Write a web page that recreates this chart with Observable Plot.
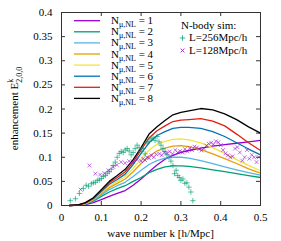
<!DOCTYPE html>
<html><head><meta charset="utf-8">
<script src="https://cdn.jsdelivr.net/npm/d3@7"></script>
<script src="https://cdn.jsdelivr.net/npm/@observablehq/plot@0.6"></script>
<style>body{margin:0;background:#fff}</style>
</head><body><div id="chart"></div>
<script>
const kGrid = [0.02,0.04,0.06,0.08,0.10,0.12,0.14,0.16,0.18,0.20,0.22,0.24,0.26,0.28,0.30,0.32,0.35,0.38,0.41,0.44,0.47,0.50];
const N1 = [0,0.0005,0.002,0.006,0.012,0.019,0.025,0.031,0.042,0.055,0.070,0.084,0.096,0.104,0.110,0.114,0.119,0.123,0.126,0.129,0.132,0.135];
const N2 = [0,0.0008,0.003,0.009,0.019,0.028,0.035,0.041,0.050,0.058,0.068,0.075,0.080,0.082,0.082,0.081,0.078,0.074,0.070,0.066,0.062,0.058];
const N3 = [0,0.0008,0.003,0.011,0.022,0.033,0.041,0.048,0.060,0.073,0.085,0.093,0.098,0.100,0.100,0.098,0.093,0.087,0.080,0.074,0.068,0.063];
const N4 = [0,0.001,0.004,0.012,0.025,0.037,0.046,0.055,0.070,0.087,0.102,0.113,0.119,0.123,0.124,0.122,0.116,0.107,0.097,0.087,0.076,0.067];
const N5 = [0,0.001,0.004,0.013,0.027,0.040,0.050,0.060,0.077,0.097,0.115,0.127,0.133,0.137,0.138,0.136,0.130,0.120,0.108,0.095,0.083,0.072];
const N6 = [0,0.001,0.005,0.014,0.029,0.044,0.054,0.065,0.085,0.108,0.130,0.145,0.153,0.160,0.162,0.162,0.160,0.153,0.143,0.130,0.117,0.105];
const N7 = [0,0.001,0.005,0.015,0.031,0.047,0.058,0.070,0.090,0.115,0.140,0.155,0.165,0.174,0.177,0.178,0.180,0.175,0.165,0.148,0.130,0.114];
const N8 = [0,0.001,0.006,0.016,0.033,0.050,0.062,0.075,0.095,0.120,0.148,0.163,0.176,0.188,0.193,0.196,0.201,0.198,0.190,0.178,0.163,0.150];
const seriesNames = ["1","2","3","4","5","6","7","8"];
const seriesColors = ["#9400d3","#009e73","#56b4e9","#e69f00","#f0e442","#0072b2","#e51e10","#000000"];

const sim256k = [0.022,0.035,0.045,0.055,0.062,0.068,0.075,0.080,0.085,0.090,0.095,0.100,0.105,0.110,0.115,0.120,0.125,0.130,0.135,0.140,0.145,0.150,0.155,0.160,0.165,0.170,0.175,0.180,0.185,0.190,0.195,0.200,0.205,0.210,0.215,0.220,0.225,0.230,0.235,0.240,0.245,0.250,0.255,0.260,0.265,0.270,0.275,0.280,0.284,0.288,0.292,0.296,0.300,0.305,0.310,0.315,0.320,0.325,0.330];
const sim256v = [0.010,0.014,0.025,0.035,0.042,0.040,0.045,0.047,0.048,0.052,0.053,0.056,0.060,0.062,0.067,0.070,0.075,0.083,0.090,0.100,0.108,0.112,0.110,0.115,0.118,0.113,0.105,0.110,0.118,0.125,0.120,0.112,0.118,0.107,0.130,0.133,0.138,0.140,0.135,0.143,0.132,0.125,0.118,0.112,0.105,0.100,0.092,0.083,0.066,0.073,0.062,0.058,0.052,0.055,0.046,0.047,0.038,0.028,0.010];
const sim128k = [0.048,0.070,0.085,0.097,0.108,0.118,0.130,0.139,0.150,0.160,0.170,0.180,0.190,0.200,0.205,0.210,0.215,0.220,0.226,0.232,0.238,0.246,0.252,0.258,0.265,0.272,0.279,0.286,0.292,0.298,0.304,0.310,0.316,0.322,0.328,0.334,0.340,0.346,0.352,0.358,0.364,0.370,0.376,0.382,0.388,0.394,0.400,0.406,0.412,0.418,0.424,0.430,0.436,0.442,0.448,0.454,0.460,0.466,0.472,0.478,0.484,0.490,0.496];
const sim128v = [0.033,0.083,0.066,0.064,0.067,0.073,0.080,0.084,0.090,0.088,0.092,0.090,0.095,0.092,0.097,0.094,0.100,0.098,0.104,0.100,0.106,0.107,0.104,0.110,0.108,0.112,0.107,0.115,0.110,0.113,0.110,0.117,0.112,0.119,0.115,0.122,0.120,0.117,0.114,0.118,0.124,0.128,0.130,0.127,0.133,0.131,0.125,0.115,0.108,0.104,0.100,0.102,0.118,0.121,0.110,0.093,0.100,0.115,0.097,0.105,0.100,0.090,0.100];

const xTicks = [0,0.1,0.2,0.3,0.4,0.5];
const xTickLabels = ["0","0.1","0.2","0.3","0.4","0.5"];
const yTicks = [0,0.05,0.1,0.15,0.2,0.25,0.3,0.35,0.4];
const yTickLabels = ["0","0.05","0.1","0.15","0.2","0.25","0.3","0.35","0.4"];
const xLabel = "wave number k [h/Mpc]";
const simTitle = "N-body sim:";
const simNames = ["L=256Mpc/h","L=128Mpc/h"];

const allSeries = [N1,N2,N3,N4,N5,N6,N7,N8];
const lineData = [];
allSeries.forEach((arr,si)=>arr.forEach((v,i)=>lineData.push({k:kGrid[i], v, s:seriesNames[si]})));
const pts256 = sim256k.map((k,i)=>({k, v:sim256v[i]}));
const pts128 = sim128k.map((k,i)=>({k, v:sim128v[i]}));

const W=281,H=241,mL=61,mR=21,mT=12,mB=36;
const iw=W-mL-mR, ih=H-mT-mB, tl=4;
const legX = 182, legY0 = 37.5, legDy = 12.5;

const plot = Plot.plot({
  width:W, height:H, marginLeft:mL, marginRight:mR, marginTop:mT, marginBottom:mB,
  style:{fontFamily:"Liberation Serif", fontSize:"11px", background:"#fff", color:"#000"},
  x:{domain:[0,0.5]},
  y:{domain:[0,0.4]},
  color:{domain:seriesNames, range:seriesColors},
  marks:[
    Plot.axisX({ticks:xTicks, tickSize:0, tickPadding:8, label:null, tickFormat:(d,i)=>xTickLabels[i], fontSize:11}),
    Plot.axisY({ticks:yTicks, tickSize:0, tickPadding:9, label:null, tickFormat:(d,i)=>yTickLabels[i], fontSize:11}),
    Plot.tickY(yTicks, {y:d=>d, insetRight:iw-tl, stroke:"#333"}),
    Plot.tickY(yTicks, {y:d=>d, insetLeft:iw-tl, stroke:"#333"}),
    Plot.tickX(xTicks, {x:d=>d, insetTop:ih-tl, stroke:"#333"}),
    Plot.tickX(xTicks, {x:d=>d, insetBottom:ih-tl, stroke:"#333"}),
    Plot.line(lineData, {x:"k", y:"v", z:"s", stroke:"s", strokeWidth:1.3}),
    Plot.dot(pts256, {x:"k", y:"v", symbol:"plus", r:1.9, stroke:"#009e73", strokeWidth:1, strokeOpacity:0.65}),
    Plot.dot(pts128, {x:"k", y:"v", symbol:"times", r:1.9, stroke:"#9400d3", strokeWidth:1, strokeOpacity:0.55}),
    Plot.dot([simNames[0]], {frameAnchor:"top-left", dx:legX-mL, dy:legY0-mT, symbol:"plus", r:1.9, stroke:"#009e73", strokeWidth:1, strokeOpacity:0.75}),
    Plot.dot([simNames[1]], {frameAnchor:"top-left", dx:legX-mL, dy:legY0+legDy-mT, symbol:"times", r:1.9, stroke:"#9400d3", strokeWidth:1, strokeOpacity:0.75}),
    Plot.frame({stroke:"#333", strokeWidth:1})
  ]
});
document.getElementById("chart").appendChild(plot);

const svg = d3.select(plot);
const font = "Liberation Serif";
svg.append("text").attr("x", mL+iw/2).attr("y", 237).attr("text-anchor","middle")
  .attr("font-family",font).attr("font-size",11).attr("fill","#000").text(xLabel);
const yl = svg.append("text").attr("transform",`translate(18,${mT+ih/2}) rotate(-90)`)
  .attr("text-anchor","middle").attr("font-family",font).attr("font-size",11).attr("fill","#000");
yl.append("tspan").text("enhancement E");
yl.append("tspan").attr("font-size",8).attr("dy",-5).text("k");
yl.append("tspan").attr("font-size",8).attr("dx",-4).attr("dy",9).text("2,0,0");

seriesNames.forEach((n,i)=>{
  const y = 20.7 + i*11.1;
  svg.append("line").attr("x1",74).attr("x2",100).attr("y1",y).attr("y2",y)
    .attr("stroke",seriesColors[i]).attr("stroke-width",1.3);
  const t = svg.append("text").attr("x",111).attr("y",y+3.5).attr("text-anchor","start")
    .attr("font-family",font).attr("font-size",11).attr("fill","#000");
  t.append("tspan").text("N");
  t.append("tspan").attr("font-size",8).attr("dy",3).text("\u03bc,NL");
  t.append("tspan").attr("dy",-3).text(" = "+n);
});
svg.append("text").attr("x",181).attr("y",29).attr("text-anchor","start")
  .attr("font-family",font).attr("font-size",11).attr("fill","#000").text(simTitle);
simNames.forEach((n,i)=>{
  const y = legY0 + i*legDy;
  svg.append("text").attr("x",189).attr("y",y+3.8).attr("text-anchor","start")
    .attr("font-family",font).attr("font-size",11).attr("fill","#000").text(n);
});
</script></body></html>
